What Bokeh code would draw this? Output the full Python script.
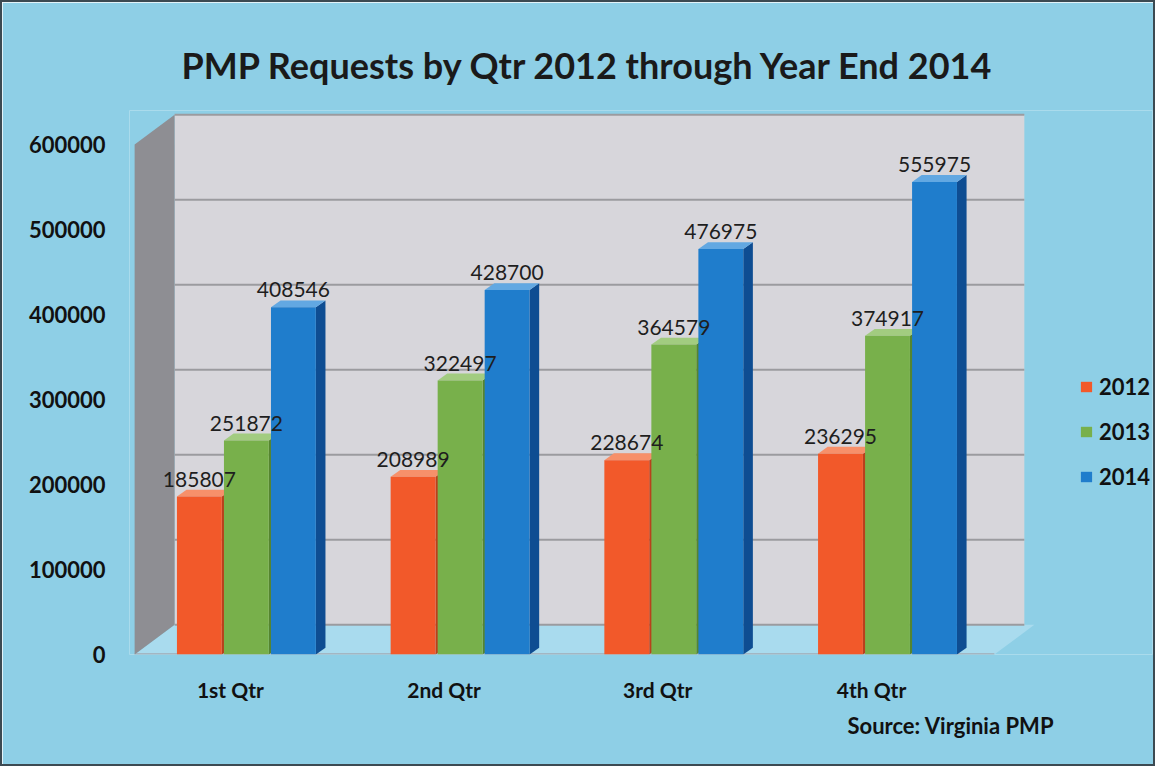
from bokeh.plotting import figure
from bokeh.models import Legend, LegendItem, Title, NumeralTickFormatter, FixedTicker
from bokeh.core.properties import value
from bokeh.embed import file_html
from bokeh.resources import INLINE

quarters = ["1st Qtr", "2nd Qtr", "3rd Qtr", "4th Qtr"]
years = ["2012", "2013", "2014"]
v2012 = [185807, 208989, 228674, 236295]
v2013 = [251872, 322497, 364579, 374917]
v2014 = [408546, 428700, 476975, 555975]
y_ticks = [0, 100000, 200000, 300000, 400000, 500000, 600000]
series = {"2012": v2012, "2013": v2013, "2014": v2014}

face_colors = ["#f2592a", "#78b04b", "#1f7dcc"]
side_colors = ["#b9401c", "#55852f", "#0e4d92"]
top_colors = ["#f7906a", "#a2cc80", "#62a8e2"]

FONT = "Lato"
BG = "#8ecfe6"

# 3D styling constants (depth of the walls and bars)
X0 = -0.023        # front-left corner of the floor
DX = 0.187         # wall depth, horizontal (x units)
DY = 35000         # wall depth, vertical (y units)
BDX = 0.045        # bar depth, horizontal
BDY = 8000         # bar depth, vertical
BAR_W = 0.21
offsets = [-0.22, 0.0, 0.22]
n = len(quarters)
ytop = y_ticks[-1]

p = figure(x_range=(-0.047, 4.74), y_range=(0, 640000),
           width=1155, height=766, output_backend="svg", toolbar_location=None,
           min_border_left=127, min_border_right=5, min_border_top=108, min_border_bottom=114)
p.styles = {"border": "2px solid #3c4a52"}

p.background_fill_color = BG
p.border_fill_color = BG
p.outline_line_color = None
p.xgrid.grid_line_color = None
p.ygrid.grid_line_color = None

# floor
p.patch([X0, n, n + DX, X0 + DX], [0, 0, DY, DY], fill_color="#a9dbee", line_color=None)
p.line([X0, n], [0, 0], line_color="#a3b6c2", line_width=3)
# back wall
p.quad(left=X0 + DX, right=n + DX * 0.75, bottom=DY, top=ytop + DY,
       fill_color="#d7d6db", line_color=None)
# side wall
p.patch([X0, X0 + DX, X0 + DX, X0], [0, DY, ytop + DY, ytop],
        fill_color="#8e8e93", line_color=None)
# gridlines on back wall
p.segment(x0=[X0 + DX] * len(y_ticks), x1=[n + DX * 0.75] * len(y_ticks),
          y0=[t + DY for t in y_ticks], y1=[t + DY for t in y_ticks],
          line_color="#9b9b9f", line_width=2)

legend_items = []
labels = []
for i, yr in enumerate(years):
    vals = series[yr]
    xc = [q + 0.5 + offsets[i] for q in range(n)]
    left = [x - BAR_W / 2 for x in xc]
    right = [x + BAR_W / 2 for x in xc]
    side_xs = [[r, r + BDX, r + BDX, r] for r in right]
    side_ys = [[0, BDY, v + BDY, v] for v in vals]
    top_xs = [[l, l + BDX, r + BDX, r] for l, r in zip(left, right)]
    top_ys = [[v, v + BDY, v + BDY, v] for v in vals]
    p.patches(side_xs, side_ys, fill_color=side_colors[i], line_color=None)
    p.patches(top_xs, top_ys, fill_color=top_colors[i], line_color=None)
    face = p.vbar(x=xc, top=vals, width=BAR_W, fill_color=face_colors[i], line_color=None)
    labels.append((xc, vals))
    legend_items.append(LegendItem(label=yr, renderers=[face]))

for xc, vals in labels:
    p.text(x=xc, y=[v + BDY for v in vals], text=[str(v) for v in vals],
           text_align="center", text_baseline="bottom", y_offset=-3,
           text_font=value(FONT), text_font_size="21px", text_color="#1e1e1e")

legend = Legend(items=legend_items, location=(950, 164), background_fill_alpha=0,
                border_line_color=None, label_text_font=FONT, label_text_font_size="22px",
                label_text_font_style="bold", label_text_color="#111111",
                glyph_width=14, glyph_height=13, label_height=22, spacing=18, label_standoff=6,
                margin=0, padding=0)
p.add_layout(legend, "center")

p.title.text = "PMP Requests by Qtr 2012 through Year End 2014"
p.title.text_font = FONT
p.title.text_font_size = "36px"
p.title.text_font_style = "bold"
p.title.text_color = "#1a1a1a"
p.title.align = "left"
p.title.offset = 52
p.title.standoff = 48

p.yaxis.ticker = y_ticks
p.yaxis.formatter = NumeralTickFormatter(format="0")
p.yaxis.major_label_text_font = FONT
p.yaxis.major_label_text_font_size = "22px"
p.yaxis.major_label_text_font_style = "bold"
p.yaxis.major_label_text_color = "#111111"
p.yaxis.major_label_standoff = 18
p.yaxis.axis_line_color = None
p.yaxis.major_tick_line_color = None
p.yaxis.minor_tick_line_color = None

xticks = [q + 0.5 - 0.075 for q in range(n)]
p.xaxis.ticker = FixedTicker(ticks=xticks)
p.xaxis.major_label_overrides = {t: lab for t, lab in zip(xticks, quarters)}
p.xaxis.major_label_text_font = FONT
p.xaxis.major_label_text_font_size = "21px"
p.xaxis.major_label_text_font_style = "bold"
p.xaxis.major_label_text_color = "#111111"
p.xaxis.major_label_standoff = 16
p.xaxis.axis_line_color = None
p.xaxis.major_tick_line_color = None
p.xaxis.minor_tick_line_color = None

src_title = Title(text="Source:  Virginia PMP", align="left", text_font=FONT,
                  text_font_size="22px", text_font_style="bold", text_color="#111111",
                  offset=718)
p.add_layout(src_title, "below")

open("out.html", "w").write(file_html(p, INLINE))
